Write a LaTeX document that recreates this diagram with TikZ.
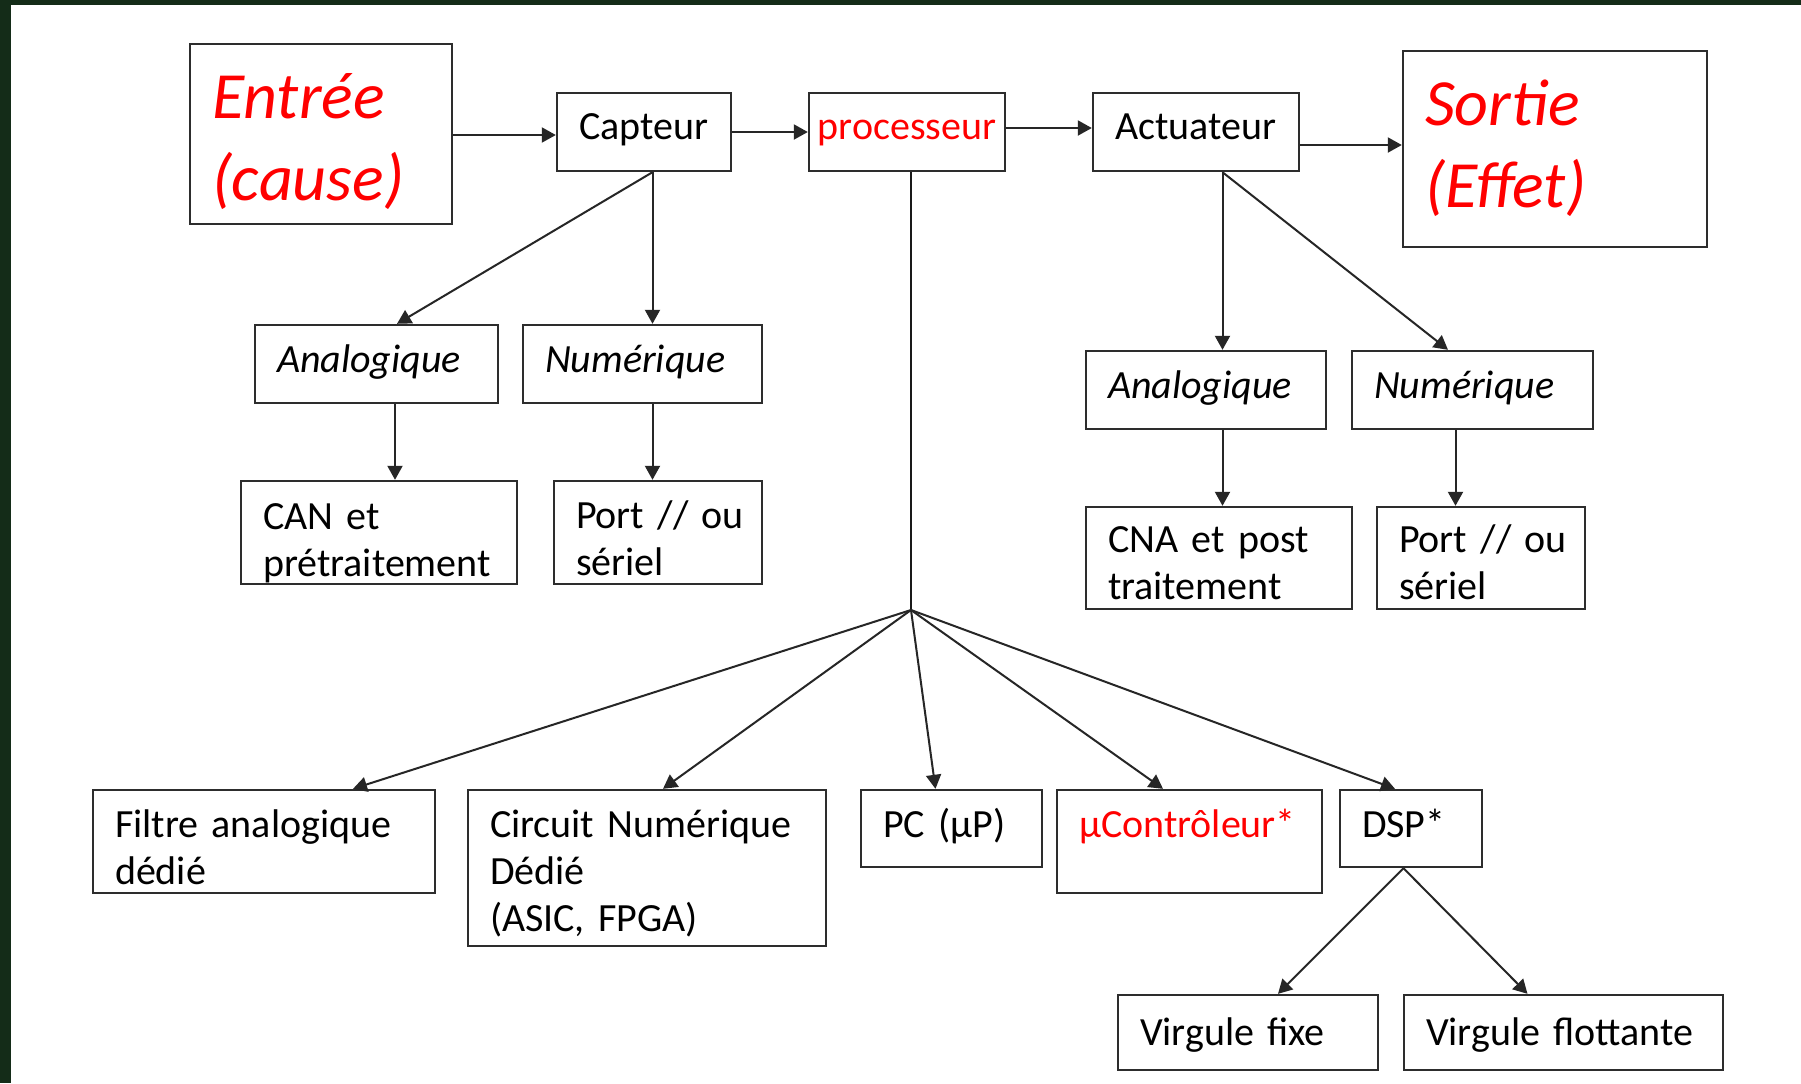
\documentclass[tikz,border=0pt]{standalone}
\usepackage{fontspec}
\setmainfont{Carlito}
\usetikzlibrary{arrows.meta}
\definecolor{slidegreen}{RGB}{20,44,24}
\definecolor{edge}{RGB}{45,45,45}
\newcommand{\boxfont}{\fontsize{20}{23.5}\selectfont\spaceskip=0.17em\relax}
\begin{document}
\begin{tikzpicture}[x=0.5pt,y=-0.5pt,
  box/.style={draw=edge, line width=1.2pt, fill=white, rectangle,
    inner xsep=11pt, inner ysep=0pt, align=left, text=black,
    font=\boxfont},
  big/.style={text=red, font=\fontsize{33}{41}\selectfont\itshape},
  arr/.style={draw=black!85, line width=1pt, -{Triangle[length=7pt,width=7.5pt]}},
  plain/.style={draw=black!90, line width=0.9pt},
]
% slide frame and page
\useasboundingbox (0,0) rectangle (1801,1083);
\fill[slidegreen] (0,0) rectangle (1801,1083);
\fill[white] (11,5) rectangle (1801,1083);

% main chain
\node[box, big, minimum width=131pt, minimum height=90pt, text width=109pt,
      text height=37pt, text depth=53pt] (entree) at (321,134) {Entrée\\(cause)};
\node[box, minimum width=87pt, minimum height=39pt, text width=65pt,
      text height=23pt, text depth=16pt] (capteur) at (644,132) {Capteur};
\node[box, text=red, inner xsep=4pt, align=center, minimum width=98pt, minimum height=39pt,
      text width=90pt, text height=23pt, text depth=16pt] (proc) at (907,132) {processeur};
\node[box, minimum width=103pt, minimum height=39pt, text width=81pt,
      text height=23pt, text depth=16pt] (actu) at (1196,132) {Actuateur};
\node[box, big, minimum width=152pt, minimum height=98pt, text width=130pt,
      text height=37pt, text depth=61pt] (sortie) at (1555,149) {Sortie\\(Effet)};

% sensor side
\node[box, font=\boxfont\itshape, minimum width=121.5pt, minimum height=39pt,
      text width=99.5pt, text height=23.5pt, text depth=15.5pt] (anaL) at (376.5,364) {Analogique};
\node[box, font=\boxfont\itshape, minimum width=119.5pt, minimum height=39pt,
      text width=97.5pt, text height=23.5pt, text depth=15.5pt] (numL) at (642.5,364) {Numérique};
\node[box, minimum width=138pt, minimum height=51.5pt, text width=116pt,
      text height=24pt, text depth=27.5pt] (can) at (379,532.5) {CAN et\\prétraitement};
\node[box, minimum width=104pt, minimum height=51.5pt, text width=82pt,
      text height=23.5pt, text depth=28pt] (portL) at (658,532.5) {\mbox{Port // ou}\\sériel};

% actuator side
\node[box, font=\boxfont\itshape, minimum width=120pt, minimum height=39pt,
      text width=98pt, text height=23.5pt, text depth=15.5pt] (anaR) at (1206,390) {Analogique};
\node[box, font=\boxfont\itshape, minimum width=120.5pt, minimum height=39pt,
      text width=98.5pt, text height=23.5pt, text depth=15.5pt] (numR) at (1472.5,390) {Numérique};
\node[box, minimum width=133pt, minimum height=51pt, text width=111pt,
      text height=22.5pt, text depth=28.5pt] (cna) at (1219,558) {CNA et post\\traitement};
\node[box, minimum width=104pt, minimum height=51pt, text width=82pt,
      text height=22.5pt, text depth=28.5pt] (portR) at (1481,558) {\mbox{Port // ou}\\sériel};

% processing targets
\node[box, minimum width=171pt, minimum height=51.5pt, text width=149pt,
      text height=23.5pt, text depth=28pt] (filtre) at (264,841.5) {Filtre analogique\\dédié};
\node[box, minimum width=179pt, minimum height=78pt, text width=157pt,
      text height=23.5pt, text depth=54.5pt] (circuit) at (647,868) {Circuit Numérique\\Dédié\\(ASIC, FPGA)};
\node[box, minimum width=90.5pt, minimum height=38.5pt, text width=68.5pt,
      text height=23.5pt, text depth=15pt] (pc) at (951.5,828.5) {\mbox{PC (µP)}};
\node[box, text=red, minimum width=132.5pt, minimum height=51.5pt, text width=110.5pt,
      text height=23.5pt, text depth=28pt] (uc) at (1189.5,841.5) {µContrôleur*};
\node[box, minimum width=71pt, minimum height=38.5pt, text width=49pt,
      text height=23.5pt, text depth=15pt] (dsp) at (1411,828.5) {DSP*};
\node[box, minimum width=130pt, minimum height=37.5pt, text width=108pt,
      text height=25pt, text depth=12.5pt] (vfix) at (1248,1032.5) {Virgule fixe};
\node[box, minimum width=159.5pt, minimum height=37.5pt, text width=137.5pt,
      text height=25pt, text depth=12.5pt] (vflot) at (1563.5,1032.5) {\mbox{Virgule flottante}};

% branch points
\coordinate (capB) at ([xshift=4.25pt]capteur.south);
\coordinate (actB) at ([xshift=13.25pt]actu.south);
\coordinate (procB) at ([xshift=2pt]proc.south);
\coordinate (hub) at (911,610);
\coordinate (dspB) at ([xshift=-3.75pt]dsp.south);
\coordinate (aL) at ([xshift=9.25pt]anaL.south);
\coordinate (nR) at ([xshift=-8.5pt]numR.south);

% chain arrows
\draw[arr] ([yshift=-1.5pt]entree.east |- capteur.west) -- ([yshift=-1.5pt]capteur.west);
\draw[arr] (capteur.east) -- (proc.west);
\draw[arr] ([yshift=2pt]proc.east) -- ([yshift=2pt]actu.west);
\draw[arr] ([yshift=-6.5pt]actu.east) -- ([yshift=-6.5pt]actu.east -| sortie.west);

% sensor branches
\draw[arr] (capB) -- ([xshift=10.25pt]anaL.north);
\draw[arr] (capB) -- (capB |- numL.north);
\draw[arr] (aL) -- (aL |- can.north);
\draw[arr] (numL.south -| capB) -- (capB |- portL.north);

% actuator branches
\draw[arr] (actB) -- (actB |- anaR.north);
\draw[arr] (actB) -- ([xshift=-12.25pt]numR.north);
\draw[arr] (anaR.south -| actB) -- (actB |- cna.north);
\draw[arr] (nR) -- (nR |- portR.north);

% processor fan-out
\draw[plain] (procB) -- (hub);
\draw[arr] (hub) -- ([xshift=44.5pt]filtre.north);
\draw[arr] (hub) -- ([xshift=8pt]circuit.north);
\draw[arr] (hub) -- ([xshift=-8pt]pc.north);
\draw[arr] (hub) -- ([xshift=-13.25pt]uc.north);
\draw[arr] (hub) -- ([xshift=-8pt]dsp.north);

% DSP arithmetic
\draw[arr] (dspB) -- ([xshift=15pt]vfix.north);
\draw[arr] (dspB) -- ([xshift=-18pt]vflot.north);
\end{tikzpicture}
\end{document}
